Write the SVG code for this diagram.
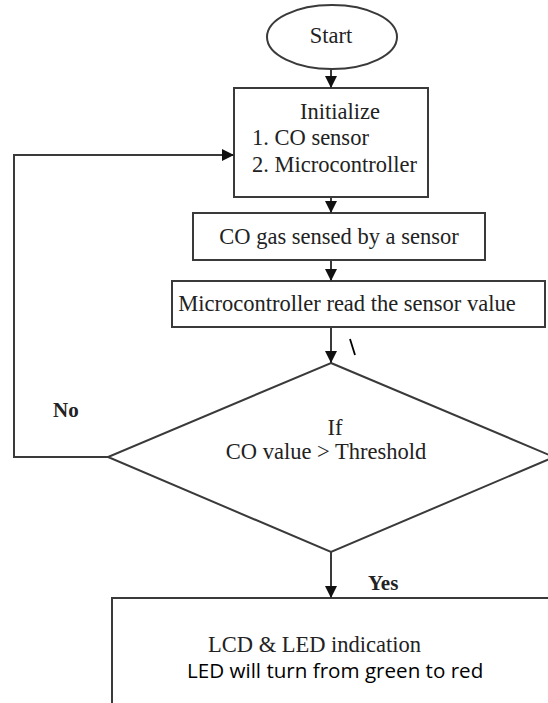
<svg xmlns="http://www.w3.org/2000/svg" width="548" height="703" viewBox="0 0 548 703">
<style>
.shape{fill:#fff;stroke:#3a3a3a;stroke-width:2}
.conn{fill:none;stroke:#3a3a3a;stroke-width:2}
.t{font-family:"Liberation Serif","Times New Roman",serif;font-size:22.5px;fill:#222}
.b{font-family:"Liberation Serif","Times New Roman",serif;font-size:21px;font-weight:bold;fill:#222}
.s{font-family:"Open Sans","Noto Sans",sans-serif;font-size:20.6px;fill:#000}
</style>
<defs>
<marker id="arr" markerUnits="userSpaceOnUse" markerWidth="12" markerHeight="12" refX="12" refY="6" orient="auto">
<path d="M0,0 L12,6 L0,12 z" fill="#111"/>
</marker>
</defs>
<rect width="548" height="703" fill="#fff"/>
<g id="start">
<ellipse class="shape" cx="332" cy="37" rx="65" ry="32"/>
<text class="t" x="331" y="43" text-anchor="middle">Start</text>
</g>
<g id="init">
<rect class="shape" x="234" y="88" width="194" height="109"/>
<text class="t" x="300" y="119">Initialize</text>
<text class="t" x="252" y="145">1. CO sensor</text>
<text class="t" x="252" y="172">2. Microcontroller</text>
</g>
<g id="sense">
<rect class="shape" x="193" y="213" width="292" height="47"/>
<text class="t" x="339" y="244" text-anchor="middle">CO gas sensed by a sensor</text>
</g>
<g id="read">
<rect class="shape" x="172" y="281" width="373" height="46"/>
<text class="t" x="347" y="311" text-anchor="middle">Microcontroller read the sensor value</text>
</g>
<g id="decision">
<polygon class="shape" points="331,363 554,457 331,552 108,457"/>
<text class="t" x="335" y="435" text-anchor="middle">If</text>
<text class="t" x="326" y="459" text-anchor="middle">CO value &gt; Threshold</text>
</g>
<g id="indicate">
<rect class="shape" x="112" y="598" width="500" height="200"/>
<text class="t" x="208" y="652">LCD &amp; LED indication</text>
<text class="s" x="187" y="678">LED will turn from green to red</text>
</g>
<g id="connectors">
<line class="conn" x1="331" y1="69" x2="331" y2="88" marker-end="url(#arr)"/>
<line class="conn" x1="331" y1="197" x2="331" y2="213" marker-end="url(#arr)"/>
<line class="conn" x1="331" y1="260" x2="331" y2="281" marker-end="url(#arr)"/>
<line class="conn" x1="331" y1="327" x2="331" y2="363" marker-end="url(#arr)"/>
<line class="conn" x1="331" y1="552" x2="331" y2="598" marker-end="url(#arr)"/>
<polyline class="conn" points="108,457 14,457 14,155 234,155" marker-end="url(#arr)"/>
<text class="b" x="53" y="417">No</text>
<text class="b" x="368" y="590">Yes</text>
</g>
<line x1="350" y1="339" x2="355" y2="355" stroke="#000" stroke-width="1.8"/>
</svg>
